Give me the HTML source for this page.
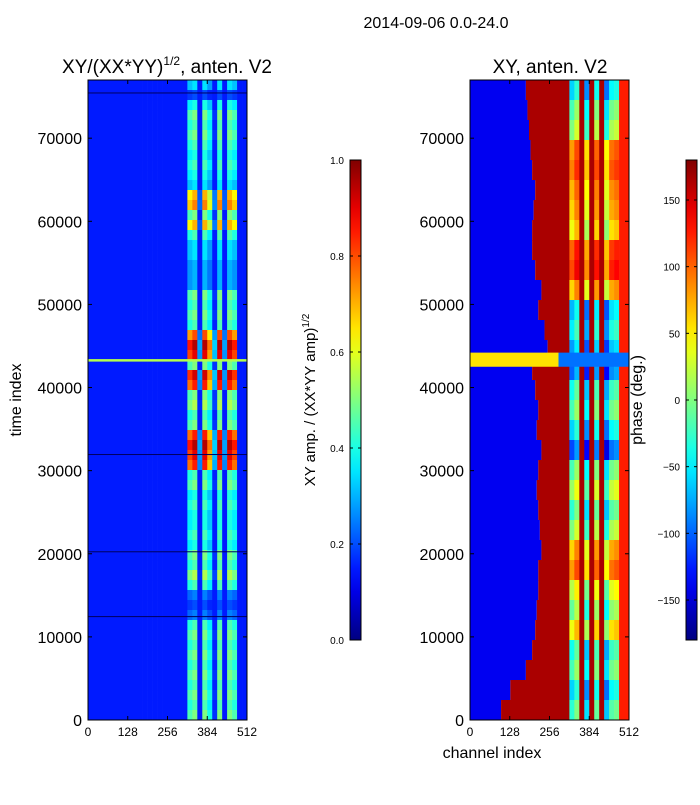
<!DOCTYPE html>
<html><head><meta charset="utf-8">
<style>
body{margin:0;background:#fff;width:700px;height:800px;overflow:hidden;font-family:"Liberation Sans","DejaVu Sans",sans-serif}
svg text{font-family:"Liberation Sans","DejaVu Sans",sans-serif;fill:#000}
</style></head>
<body>
<svg id="chart" width="700" height="800" xmlns="http://www.w3.org/2000/svg"></svg>
<script>
// ---- data ----
const ampRowLevel = [.35,.2,.4,.5,.45,.5,.45,.4,.45,.4,.35,.7,.75,.5,.7,.45,.35,.35,.3,.3,.3,.5,.45,.5,.45,.8,.95,.9,.5,.92,.85,.5,.55,.45,.5,.85,.95,.9,.85,.45,.5,.4,.45,.4,.4,.45,.4,.5,.45,.55,.45,.25,.2,.25,.45,.5,.45,.5,.45,.5,.45,.5,.45,.5];
const ampColWeight = [0,0,0,0,0,0,0,0,0,0,0,0,0,0,0,0,0,0,0,0,.9,1,.3,1,.8,.35,1,.3,1,.9,0,0];
const ampBackground = 0.15;
const ampLineIdx = [43300];
const ampLineVal = [0.55];
const darkLineIdx = [32000, 20300, 12500, 75500];
const phaseBoundary = [180,185,190,195,200,210,205,200,200,210,230,220,240,250,200,210,220,215,230,220,215,220,225,230,220,220,215,210,200,180,130,100];
const phaseStripe = [-60,-20,0,80,90,70,60,40,100,110,60,-70,-50,-80,-100,-40,-20,-60,-110,-20,10,-30,0,60,80,20,-10,40,-40,-20,-60,-30];
const phaseStripeOffset = [0,30,999,-25,999,20,999,-35,15,25];
const phaseBlue = -140, phaseRed = 165, phaseEdge = 125;
const phaseBandIdx = [44200, 42500];
const phaseBandLeft = 55, phaseBandRight = -95, phaseBandSplit = 285;
const xTicks = [0,128,256,384,512];
const yTicks = [0,10000,20000,30000,40000,50000,60000,70000];
const ampTicks = [0.0,0.2,0.4,0.6,0.8,1.0];
const phaseTicks = [-150,-100,-50,0,50,100,150];
const IDX_MAX = 77000, CH_MAX = 512;

const NS = "http://www.w3.org/2000/svg";
const svg = document.getElementById('chart');
function jet(v){v=Math.max(0,Math.min(1,v));
 const r=Math.max(0,Math.min(1,1.5-Math.abs(4*v-3))),g=Math.max(0,Math.min(1,1.5-Math.abs(4*v-2))),b=Math.max(0,Math.min(1,1.5-Math.abs(4*v-1)));
 return `rgb(${Math.round(r*255)},${Math.round(g*255)},${Math.round(b*255)})`;}
const pnorm = p => (p+180)/360;
function el(tag, attrs, parent){const e=document.createElementNS(NS,tag);for(const k in attrs)e.setAttribute(k,attrs[k]);(parent||svg).appendChild(e);return e;}
const PY0=80, PY1=720;
const yS = i => PY1 - i/IDX_MAX*(PY1-PY0);
function xS(x0){return ch => x0 + ch/CH_MAX*159;}

function panel(x0, name){
 const g = el('g',{});
 
 
 return g;
}
// ---- left amplitude heatmap ----
const L = panel(88,'amplitude-heatmap'); const xL = xS(88);
const nL = ampRowLevel.length, nC = ampColWeight.length;
for(let i=0;i<nL;i++){
 const top = yS(IDX_MAX*(1-i/nL)), bot = yS(IDX_MAX*(1-(i+1)/nL));
 for(let j=0;j<nC;j++){
  const v = Math.max(ampBackground, ampRowLevel[i]*ampColWeight[j]);
  const c0 = j*CH_MAX/nC, c1=(j+1)*CH_MAX/nC;
  const r = el('rect',{x:xL(c0),y:top,width:xL(c1)-xL(c0)+0.3,height:bot-top+0.3,fill:jet(v)},L);
  
  
 }
}
ampLineIdx.forEach((idx,k)=>{const r=el('rect',{x:88,y:yS(idx)-1,width:159,height:2.5,fill:jet(ampLineVal[k])},L);
 
 });
darkLineIdx.forEach(idx=>{const r=el('rect',{x:88,y:yS(idx),width:159,height:1,fill:'#000060'},L);
 
 });

// ---- right phase heatmap ----
const R = panel(470,'phase-heatmap'); const xR = xS(470);
const nR = phaseBoundary.length;
for(let i=0;i<nR;i++){
 const top = yS(IDX_MAX*(1-i/nR)), bot = yS(IDX_MAX*(1-(i+1)/nR)), h=bot-top+0.3;
 const b = phaseBoundary[i];
 let r = el('rect',{x:xR(0),y:top,width:xR(b)-xR(0),height:h,fill:jet(pnorm(phaseBlue))},R);
 
 
 r = el('rect',{x:xR(b),y:top,width:xR(320)-xR(b)+0.3,height:h,fill:jet(pnorm(phaseRed))},R);
 
 
 phaseStripeOffset.forEach((off,j)=>{
  const c0=320+j*16, p = off===999 ? phaseRed : Math.max(-179,Math.min(179,phaseStripe[i]+off));
  const s = el('rect',{x:xR(c0),y:top,width:xR(16)-xR(0)+0.3,height:h,fill:jet(pnorm(p))},R);
  
  
 });
 r = el('rect',{x:xR(480),y:top,width:xR(512)-xR(480),height:h,fill:jet(pnorm(phaseEdge))},R);
 
 
}
{
 const top=yS(phaseBandIdx[0]), bot=yS(phaseBandIdx[1]);
 let r=el('rect',{x:xR(0),y:top,width:xR(phaseBandSplit)-xR(0),height:bot-top,fill:jet(pnorm(phaseBandLeft))},R);
 
 
 r=el('rect',{x:xR(phaseBandSplit),y:top,width:xR(512)-xR(phaseBandSplit),height:bot-top,fill:jet(pnorm(phaseBandRight))},R);
 
 
}

// ---- axes ----
function axes(x0, name){
 const g = el('g',{});
 
 
 const xs = xS(x0);
 el('rect',{x:x0,y:PY0,width:159,height:640,fill:'none',stroke:'#000','stroke-width':1},g);
 yTicks.forEach(t=>{const y=yS(t);
  el('line',{x1:x0,x2:x0+4,y1:y,y2:y,stroke:'#000'},g);
  el('line',{x1:x0+159,x2:x0+155,y1:y,y2:y,stroke:'#000'},g);
  const tx=el('text',{x:x0-6,y:y+6,'font-size':16,'text-anchor':'end'},g);tx.textContent=t;
  
  });
 xTicks.forEach(t=>{const x=xs(t);
  el('line',{x1:x,x2:x,y1:PY1,y2:PY1-4,stroke:'#000'},g);
  el('line',{x1:x,x2:x,y1:PY0,y2:PY0+4,stroke:'#000'},g);
  const tx=el('text',{x:x,y:736,'font-size':12,'text-anchor':'middle'},g);tx.textContent=t;
  
  });
}
axes(88,'amplitude-axes');
axes(470,'phase-axes');

// ---- colorbars ----
function colorbar(x, ticks, tmin, tmax, name){
 const g = el('g',{});
 
 
 const gid = name+'-grad';
 const defs = el('defs',{},g);
 const lg = el('linearGradient',{id:gid,x1:0,y1:1,x2:0,y2:0},defs);
 for(let k=0;k<=20;k++) el('stop',{offset:k/20,'stop-color':jet(k/20)},lg);
 el('rect',{x:x,y:160,width:11,height:480,fill:`url(#${gid})`,stroke:'#000'},g);
 const ys = v => 640 - (v-tmin)/(tmax-tmin)*480;
 ticks.forEach(t=>{const y=ys(t);
  el('line',{x1:x,x2:x+3,y1:y,y2:y,stroke:'#000'},g);
  el('line',{x1:x+11,x2:x+8,y1:y,y2:y,stroke:'#000'},g);
  const tx=el('text',{x:x-6,y:y+4,'font-size':10,'text-anchor':'end'},g);
  tx.textContent = (tmax===1? t.toFixed(1) : (t<0?'\u2212'+(-t):t));
  
  });
}
colorbar(350, ampTicks, 0, 1, 'amplitude-colorbar');
colorbar(686, phaseTicks, -180, 180, 'phase-colorbar');

// ---- text ----
function txt(s, attrs, name){const t=el('text',attrs);t.textContent=s;
 
 return t;}
txt('2014-09-06 0.0-24.0',{x:436,y:28,'font-size':16,'text-anchor':'middle'},'figure-title');
const t1 = txt('',{x:167,y:73,'font-size':19,'text-anchor':'middle'},'amplitude-title');
t1.innerHTML='XY/(XX*YY)<tspan font-size="12" dy="-8">1/2</tspan><tspan dy="8">, anten. V2</tspan>';
txt('XY, anten. V2',{x:550,y:73,'font-size':19,'text-anchor':'middle'},'phase-title');
txt('time index',{x:21,y:400,'font-size':16,'text-anchor':'middle',transform:'rotate(-90 21 400)'},'y-axis-title');
txt('channel index',{x:492,y:758,'font-size':16,'text-anchor':'middle'},'x-axis-title');
const cl = txt('',{x:315,y:400,'font-size':15,'text-anchor':'middle',transform:'rotate(-90 315 400)'},'amplitude-colorbar-label');
cl.innerHTML='XY amp. / (XX*YY amp)<tspan font-size="10" dy="-6">1/2</tspan>';
txt('phase (deg.)',{x:642,y:400,'font-size':16,'text-anchor':'middle',transform:'rotate(-90 642 400)'},'phase-colorbar-label');
</script>
</body></html>
